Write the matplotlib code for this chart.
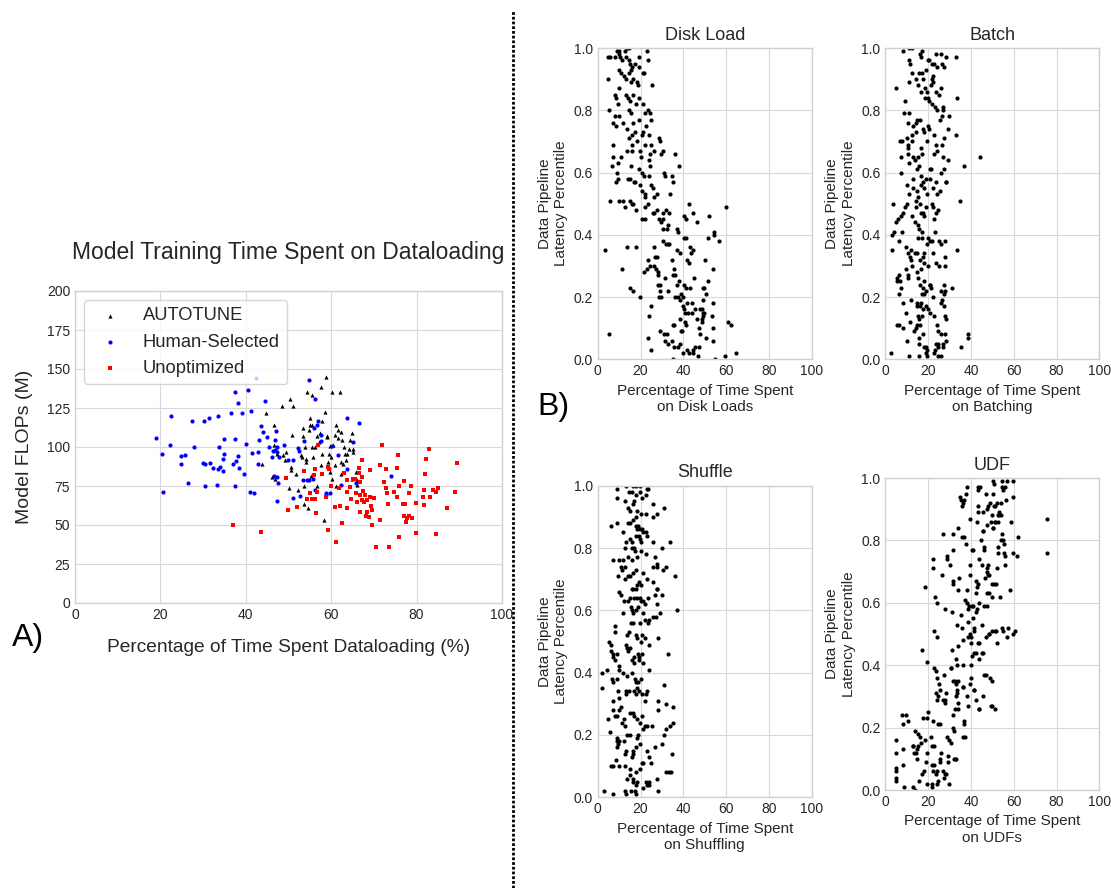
import matplotlib
matplotlib.use("Agg")
import matplotlib.pyplot as plt
from matplotlib.lines import Line2D

# ---------------- data ----------------
autotune_pts = [(43.9,88.8),(44.8,122.1),(46.2,80.9),(46.6,101.2),(46.6,114.4),(46.8,79.4),(47.3,95.8),(48.4,126.6),(48.8,94.8),(49.2,91.6),(49.5,96.9),(50.1,73.4),(50.3,130.7),(50.6,87.3),(50.7,85.3),(50.8,107.6),(51.1,126.6),(51.7,82.6),(52.3,72.3),(52.9,94.8),(53.1,93.7),(53.4,111.9),(53.4,107.2),(53.8,100.1),(54.0,92.6),(53.7,75.1),(54.0,90.3),(53.7,63.3),(54.4,135.4),(54.6,61.2),(54.9,110.8),(55.0,114.0),(55.1,118.3),(55.2,81.7),(55.4,133.5),(55.5,100.1),(55.5,114.0),(55.8,93.7),(56.2,100.1),(56.6,75.1),(56.7,107.2),(57.2,103.1),(57.3,109.1),(57.6,138.6),(57.9,116.6),(57.9,95.2),(57.7,88.6),(58.6,122.6),(58.3,53.0),(58.8,144.8),(58.9,107.2),(59.1,106.1),(59.4,95.8),(59.3,90.1),(59.5,87.3),(59.7,84.1),(59.7,100.7),(60.0,93.7),(60.2,79.4),(60.3,135.4),(60.5,101.6),(60.8,108.0),(60.9,88.3),(61.2,114.0),(61.2,75.1),(61.5,105.9),(61.7,110.8),(62.0,135.4),(62.2,109.7),(62.2,90.5),(62.4,83.0),(62.6,104.8),(62.8,89.4),(63.1,100.1),(63.2,95.6),(63.5,91.6),(63.7,95.8),(64.1,98.4),(64.5,104.4),(64.8,108.9),(64.8,79.4),(65.0,96.9),(65.1,98.4),(65.8,83.7),(66.1,75.9),(66.1,78.7)]

human_pts = [(19.0,105.5),(20.4,95.8),(20.7,71.2),(22.4,119.6),(22.2,101.0),(24.9,94.5),(25.7,95.0),(24.9,89.4),(26.4,76.8),(27.3,116.8),(27.8,100.1),(30.3,116.8),(31.3,118.9),(30.0,89.8),(30.5,89.4),(30.5,75.1),(31.7,89.8),(32.3,86.4),(33.5,119.6),(33.7,100.1),(33.6,86.2),(33.9,87.3),(34.6,92.2),(34.9,95.4),(34.6,84.7),(33.2,75.5),(34.9,105.0),(36.5,122.1),(37.4,135.2),(38.1,128.3),(37.5,105.0),(37.1,89.0),(37.8,90.9),(38.2,94.3),(38.5,86.8),(37.5,75.3),(39.0,121.9),(39.6,83.0),(40.0,101.8),(40.5,136.5),(41.3,123.0),(41.5,96.3),(41.0,71.0),(42.0,70.8),(42.4,144.0),(42.8,88.8),(42.9,96.9),(43.0,104.4),(43.6,113.2),(44.0,109.3),(44.5,129.8),(44.9,106.3),(45.5,100.1),(46.2,93.5),(46.4,97.5),(46.5,81.5),(46.8,104.4),(46.8,98.0),(47.1,110.4),(47.2,100.1),(47.4,96.9),(47.3,80.9),(47.5,76.8),(47.4,65.5),(47.7,93.3),(49.0,101.4),(49.8,91.6),(51.0,67.6),(51.1,91.6),(52.3,99.3),(52.4,97.5),(52.7,68.4),(53.7,103.6),(53.5,78.7),(54.3,78.7),(54.7,78.7),(54.8,142.9),(55.7,79.8),(56.0,111.9),(56.2,130.9),(56.3,72.3),(56.6,114.0),(56.9,116.4),(57.6,104.0),(57.7,108.0),(58.7,69.5),(58.8,70.2),(59.8,70.2),(60.2,100.7),(61.5,95.0),(62.4,75.5),(63.6,118.7),(63.6,86.2),(65.0,103.1),(65.7,76.8),(66.5,115.3),(74.1,81.1)]

unopt_pts = [(37.0,50.3),(43.5,45.3),(49.5,80.2),(49.8,59.9),(52.0,61.6),(53.7,84.3),(54.4,66.7),(55.1,70.6),(55.6,66.5),(55.9,81.9),(56.1,66.7),(56.3,86.0),(56.4,58.0),(56.6,71.0),(56.9,101.0),(57.9,83.0),(58.7,68.0),(59.3,87.3),(59.5,85.8),(59.3,47.1),(60.0,74.7),(60.8,61.6),(61.2,39.4),(62.0,62.0),(61.9,73.6),(62.5,51.6),(62.9,83.6),(63.6,78.7),(63.8,71.2),(63.8,61.2),(64.3,74.2),(64.6,66.5),(65.1,79.4),(65.5,79.8),(65.9,70.2),(66.1,64.6),(66.4,86.8),(66.5,83.6),(66.7,77.6),(66.7,58.4),(66.8,69.1),(67.1,80.9),(67.2,91.6),(67.2,65.9),(67.5,71.9),(67.6,64.8),(67.9,69.1),(68.1,55.6),(68.3,65.9),(68.3,58.4),(68.9,55.2),(69.0,85.3),(69.2,68.0),(69.3,62.0),(69.5,59.5),(69.6,49.8),(70.0,67.6),(70.4,35.9),(71.4,88.3),(71.5,53.0),(71.5,53.5),(71.8,101.0),(72.4,77.6),(72.8,73.4),(72.9,85.6),(73.1,70.2),(73.2,63.3),(73.6,35.9),(74.7,71.2),(75.3,68.0),(75.5,86.8),(75.7,94.8),(75.8,74.9),(75.9,42.4),(76.8,63.5),(77.0,78.1),(77.1,56.0),(77.3,63.7),(77.6,52.0),(77.8,54.8),(78.2,55.8),(78.2,70.2),(78.6,75.1),(78.9,54.8),(79.8,64.2),(79.8,45.1),(81.5,68.0),(81.7,72.7),(81.8,63.1),(82.0,82.6),(82.1,92.6),(82.8,98.6),(83.1,68.0),(83.9,72.7),(84.5,71.2),(84.6,44.5),(85.0,73.4),(87.2,61.0),(89.0,71.4),(89.4,89.8)]

disk_pts = [(5.0,0.97),(5.8,0.97),(4.7,0.90),(7.9,0.97),(8.9,0.99),(10.0,0.98),(10.1,0.99),(10.6,0.97),(11.5,0.96),(12.8,0.99),(13.6,1.00),(14.6,1.00),(13.4,0.97),(14.5,0.96),(15.1,0.95),(15.9,0.94),(15.4,0.93),(19.2,0.97),(19.3,0.94),(17.3,0.95),(23.2,0.99),(23.4,0.96),(21.3,0.92),(21.5,0.92),(25.2,0.88),(9.8,0.93),(11.1,0.92),(10.1,0.87),(12.3,0.91),(13.2,0.90),(14.6,0.92),(15.6,0.89),(16.7,0.90),(18.2,0.89),(19.0,0.88),(13.2,0.85),(14.3,0.84),(15.1,0.83),(16.4,0.85),(17.9,0.82),(19.5,0.84),(8.1,0.85),(8.6,0.84),(9.4,0.82),(10.1,0.78),(8.1,0.78),(7.3,0.76),(8.6,0.75),(5.5,0.80),(12.0,0.76),(13.6,0.74),(14.8,0.80),(15.4,0.79),(16.7,0.76),(17.6,0.73),(19.2,0.77),(21.0,0.82),(22.1,0.79),(23.5,0.80),(24.5,0.79),(24.9,0.77),(22.6,0.75),(21.0,0.73),(20.9,0.72),(22.3,0.69),(23.8,0.72),(24.8,0.69),(28.5,0.71),(29.1,0.70),(18.5,0.70),(15.9,0.72),(14.6,0.71),(7.3,0.69),(7.3,0.65),(15.9,0.69),(13.6,0.67),(24.5,0.66),(26.5,0.67),(29.6,0.66),(30.7,0.67),(24.1,0.64),(19.9,0.67),(15.9,0.67),(20.2,0.65),
(6.7,0.62),(9.7,0.63),(10.7,0.65),(8.9,0.60),(9.4,0.58),(8.6,0.57),(5.9,0.51),(10.1,0.51),(12.0,0.51),(14.2,0.58),(14.9,0.58),(15.6,0.62),(17.0,0.57),(17.5,0.57),(15.1,0.51),(15.9,0.50),(16.7,0.50),(17.9,0.48),(12.6,0.49),(19.5,0.61),(20.6,0.60),(21.7,0.59),(19.9,0.56),(20.6,0.54),(22.1,0.53),(22.1,0.52),(24.4,0.62),(24.1,0.59),(24.9,0.56),(26.0,0.55),(26.3,0.52),(27.6,0.53),(23.4,0.50),(22.1,0.49),(25.7,0.47),(26.5,0.47),(27.9,0.48),(30.3,0.45),(30.7,0.47),(32.1,0.48),(33.5,0.47),(33.8,0.53),(35.4,0.57),(34.6,0.59),(36.1,0.66),(38.0,0.62),(31.5,0.59),(30.9,0.60),(20.7,0.45),(22.3,0.45),(28.5,0.45),(29.6,0.44),(30.4,0.42),(32.2,0.42),(33.0,0.43),(36.9,0.42),(37.4,0.41),(40.3,0.46),(41.1,0.45),(42.7,0.50),(44.4,0.47),(46.3,0.44),(52.2,0.46),(51.6,0.39),(54.2,0.41),(54.5,0.40),(56.7,0.38),(60.0,0.49),(40.3,0.39),(41.1,0.39),(30.7,0.38),(31.9,0.37),(32.7,0.37),(33.5,0.37),(37.2,0.35),(38.4,0.34),(43.0,0.36),(44.7,0.35),(43.7,0.34),(41.8,0.32),(42.6,0.31),(50.3,0.32),(13.9,0.36),(18.0,0.36),(11.2,0.29),(3.4,0.35),(5.3,0.08),
(26.5,0.36),(26.8,0.33),(27.6,0.33),(23.5,0.32),(24.5,0.30),(26.3,0.30),(27.4,0.29),(28.0,0.28),(28.3,0.27),(28.0,0.24),(29.3,0.24),(21.8,0.28),(23.0,0.29),(31.6,0.26),(35.8,0.29),(34.6,0.32),(35.0,0.27),(36.1,0.27),(36.9,0.24),(38.0,0.25),(40.2,0.24),(41.3,0.23),(43.1,0.23),(45.0,0.26),(49.4,0.23),(49.9,0.23),(50.5,0.21),(49.4,0.19),(51.6,0.25),(54.1,0.29),(29.1,0.22),(28.8,0.20),(29.6,0.20),(32.9,0.22),(36.1,0.20),(37.5,0.20),(38.5,0.19),(39.9,0.20),(38.9,0.21),(40.0,0.17),(40.5,0.16),(40.9,0.15),(42.4,0.15),(41.9,0.18),(41.0,0.12),(41.3,0.11),(43.9,0.18),(43.9,0.15),(45.3,0.16),(46.2,0.13),(47.7,0.16),(48.6,0.16),(49.4,0.15),(49.1,0.14),(48.6,0.13),(49.9,0.15),(48.6,0.12),(47.2,0.10),(53.6,0.14),(54.0,0.18),(53.8,0.10),(54.1,0.06),(50.6,0.07),(47.8,0.08),(47.5,0.04),(45.5,0.04),(44.7,0.03),(44.4,0.02),(42.7,0.02),(41.8,0.03),(40.0,0.02),(38.5,0.05),(37.3,0.04),(35.8,0.04),(35.4,0.00),(34.9,0.06),(33.0,0.05),(31.5,0.06),(30.9,0.08),(32.6,0.08),(29.1,0.09),(25.1,0.03),(23.5,0.07),(38.9,0.09),(39.6,0.09),(38.5,0.13),(35.4,0.11),(35.8,0.11),(24.8,0.17),(24.1,0.14),(19.8,0.20),(15.0,0.23),(16.4,0.22),(55.0,0.00),(59.4,0.01),(60.8,0.12),(62.5,0.11),(64.5,0.02),(47.0,0.01)]

batch_pts = [(8.1,0.99),(11.2,1.00),(12.5,1.00),(10.9,0.96),(11.4,0.95),(12.6,0.92),(10.9,0.89),(5.0,0.87),(14.3,0.90),(15.4,0.88),(16.2,0.98),(17.0,0.99),(16.7,0.97),(15.9,0.92),(17.1,0.92),(18.8,0.93),(17.8,0.90),(16.7,0.86),(18.5,0.87),(19.5,0.86),(20.1,0.84),(18.5,0.84),(19.8,0.96),(20.6,0.96),(21.7,0.95),(22.9,0.95),(24.0,0.94),(23.7,0.98),(26.0,0.98),(28.2,0.97),(26.5,0.95),(27.4,0.94),(33.0,0.97),(21.7,0.90),(22.1,0.89),(21.3,0.88),(22.4,0.91),(23.7,0.86),(26.0,0.87),(25.1,0.85),(20.4,0.83),(21.7,0.82),(23.4,0.81),(24.0,0.80),(27.1,0.81),(27.1,0.80),(26.5,0.78),(25.7,0.77),(29.8,0.78),(33.6,0.84),(9.2,0.83),(8.7,0.79),(10.9,0.79),(10.7,0.76),(12.8,0.75),(14.3,0.76),(15.0,0.77),(16.2,0.77),(17.4,0.74),(18.2,0.73),(19.8,0.75),(20.6,0.74),(14.3,0.73),(12.6,0.72),(6.9,0.70),(7.8,0.70),(10.3,0.71),(10.7,0.69),(12.5,0.70),(16.7,0.68),(17.1,0.66),(19.3,0.70),(22.9,0.72),(23.7,0.69),(24.1,0.67),(22.9,0.66),(27.4,0.71),(29.4,0.74),(33.0,0.72),(26.3,0.69),(26.8,0.65),(29.4,0.64),(44.2,0.65),(36.9,0.62),
(7.2,0.65),(10.4,0.68),(10.4,0.66),(13.1,0.65),(14.0,0.64),(15.1,0.65),(15.0,0.61),(15.9,0.62),(16.5,0.59),(7.3,0.60),(11.2,0.63),(12.8,0.58),(10.0,0.56),(11.2,0.53),(13.1,0.55),(14.6,0.54),(15.4,0.52),(14.3,0.51),(16.8,0.56),(17.4,0.57),(18.1,0.55),(19.0,0.58),(19.6,0.53),(20.9,0.58),(20.9,0.61),(21.3,0.61),(22.1,0.55),(23.7,0.57),(26.0,0.60),(27.4,0.61),(28.3,0.57),(28.3,0.57),(25.7,0.54),(24.3,0.53),(21.7,0.50),(19.0,0.49),(16.2,0.50),(14.3,0.49),(16.7,0.47),(17.4,0.47),(18.2,0.46),(9.2,0.49),(10.0,0.50),(7.2,0.46),(6.1,0.45),(7.6,0.41),(4.2,0.41),(3.4,0.50),(3.0,0.40),(5.0,0.44),(8.1,0.47),(12.6,0.46),(14.0,0.44),(15.1,0.43),(15.9,0.42),(17.0,0.41),(15.4,0.39),(17.1,0.39),(22.4,0.49),(23.7,0.47),(24.8,0.48),(22.7,0.45),(23.1,0.41),(19.8,0.39),(20.9,0.38),(19.3,0.37),(21.7,0.38),(25.1,0.38),(25.9,0.37),(27.9,0.38),(34.9,0.51),(33.3,0.35),(3.0,0.35),(6.4,0.38),(9.5,0.36),(10.7,0.34),(12.0,0.35),(11.5,0.33),(12.0,0.32),(12.3,0.30),(13.9,0.34),(15.0,0.34),(16.2,0.32),(17.4,0.33),(18.1,0.34),(16.7,0.29),(18.2,0.31),(20.1,0.30),(22.4,0.34),(23.7,0.31),(25.2,0.30),(27.9,0.33),(27.9,0.30),
(9.7,0.29),(10.4,0.27),(10.7,0.26),(6.5,0.27),(6.9,0.25),(5.3,0.26),(5.3,0.25),(7.2,0.23),(6.5,0.21),(8.1,0.18),(11.8,0.19),(9.7,0.15),(15.0,0.28),(15.4,0.26),(16.2,0.24),(17.4,0.23),(18.2,0.25),(19.0,0.22),(20.9,0.24),(21.3,0.23),(20.9,0.24),(18.1,0.21),(17.0,0.21),(16.7,0.18),(14.6,0.18),(15.0,0.17),(16.2,0.17),(19.0,0.17),(17.4,0.16),(17.0,0.14),(15.4,0.14),(15.9,0.13),(19.8,0.16),(20.9,0.15),(22.7,0.14),(22.1,0.20),(26.0,0.22),(26.3,0.19),(26.0,0.18),(27.4,0.24),(27.9,0.22),(31.3,0.23),(27.4,0.21),(27.9,0.14),(27.4,0.17),(28.3,0.13),(5.3,0.11),(6.5,0.11),(8.1,0.10),(10.3,0.06),(11.5,0.12),(13.4,0.09),(14.3,0.10),(15.0,0.11),(16.2,0.11),(15.9,0.07),(15.9,0.05),(17.4,0.08),(18.2,0.04),(19.0,0.04),(19.0,0.02),(19.3,0.03),(19.3,0.01),(11.2,0.01),(15.9,0.01),(2.6,0.02),(23.7,0.05),(24.5,0.05),(22.9,0.02),(23.2,0.03),(24.0,0.11),(24.8,0.09),(26.0,0.08),(27.9,0.08),(28.2,0.06),(27.1,0.05),(26.8,0.04),(26.0,0.01),(24.8,0.01),(24.8,0.04),(38.6,0.08),(38.8,0.07),(35.2,0.04)]

shuffle_pts = [(9.2,0.99),(13.2,1.00),(16.4,1.00),(17.9,1.00),(19.8,1.00),(23.2,0.99),(23.7,0.99),(9.2,0.96),(14.8,0.98),(15.9,0.98),(17.8,0.97),(19.8,0.98),(20.9,0.96),(22.4,0.97),(12.8,0.95),(14.3,0.93),(15.1,0.92),(16.4,0.94),(17.0,0.95),(18.5,0.92),(20.1,0.91),(22.6,0.91),(26.0,0.94),(26.0,0.90),(27.9,0.91),(31.0,0.93),(14.3,0.88),(15.1,0.88),(16.4,0.89),(17.9,0.90),(9.2,0.88),(6.1,0.87),(19.0,0.87),(19.8,0.86),(20.6,0.86),(17.9,0.87),(18.5,0.86),(21.3,0.85),(22.6,0.85),(12.0,0.85),(13.2,0.82),(15.1,0.83),(15.9,0.82),(17.9,0.84),(19.5,0.84),(19.8,0.83),(20.1,0.82),(23.2,0.84),(26.0,0.82),(33.8,0.82),(12.8,0.80),(15.9,0.80),(17.0,0.80),(17.4,0.79),(20.1,0.79),(22.4,0.78),(18.5,0.77),(14.3,0.77),(15.9,0.76),(7.0,0.76),(10.1,0.76),(12.0,0.76),(26.8,0.77),(27.6,0.74),(26.0,0.74),(27.9,0.75),(29.9,0.80),(31.9,0.74),(30.4,0.73),(36.1,0.71),(10.7,0.74),(11.2,0.73),(12.8,0.74),(14.3,0.71),(12.8,0.70),(15.1,0.71),(16.4,0.72),(17.9,0.73),(19.5,0.69),(21.3,0.72),(23.2,0.70),(9.7,0.71),(15.9,0.67),(16.4,0.67),(17.8,0.67),(18.2,0.68),(20.1,0.68),(25.7,0.69),(27.6,0.67),(27.9,0.67),(29.9,0.65),(26.8,0.65),(10.1,0.66),(10.7,0.65),(12.3,0.63),(14.0,0.63),(15.1,0.64),(17.1,0.64),(18.2,0.64),(19.8,0.64),(20.1,0.63),(21.0,0.63),(22.1,0.62),(23.7,0.64),(27.6,0.62),(36.9,0.60),
(12.0,0.59),(15.4,0.61),(15.9,0.60),(16.4,0.59),(17.9,0.60),(19.0,0.61),(21.3,0.59),(22.1,0.57),(24.1,0.57),(26.0,0.58),(27.3,0.58),(29.1,0.59),(23.5,0.56),(19.8,0.56),(16.4,0.56),(15.6,0.56),(8.1,0.55),(8.1,0.53),(13.6,0.52),(14.8,0.53),(17.8,0.52),(18.2,0.51),(20.6,0.52),(22.1,0.51),(20.2,0.50),(24.0,0.49),(28.0,0.51),(5.3,0.50),(6.1,0.49),(6.1,0.47),(7.0,0.46),(8.9,0.46),(7.3,0.45),(8.1,0.44),(13.1,0.49),(13.6,0.48),(14.3,0.47),(15.1,0.48),(17.0,0.45),(19.0,0.46),(19.3,0.45),(20.6,0.46),(33.0,0.46),(15.9,0.44),(17.0,0.43),(19.3,0.44),(21.0,0.43),(24.1,0.41),(10.1,0.42),(10.1,0.41),(4.2,0.41),(1.9,0.40),(1.9,0.35),(6.9,0.38),(7.3,0.37),(8.9,0.38),(12.0,0.40),(13.6,0.39),(15.9,0.40),(17.4,0.38),(17.9,0.37),(19.0,0.37),(20.1,0.38),(18.2,0.35),(17.0,0.34),(17.9,0.33),(19.5,0.34),(20.6,0.33),(22.1,0.31),(22.6,0.33),(23.2,0.34),(13.2,0.34),(14.8,0.34),(13.2,0.33),(9.7,0.34),(10.1,0.32),(7.3,0.31),(31.0,0.36),(31.9,0.30),(28.0,0.31),(28.0,0.28),(35.0,0.29),
(10.9,0.29),(10.1,0.28),(7.3,0.28),(8.1,0.26),(9.2,0.26),(5.0,0.25),(12.5,0.25),(12.8,0.23),(11.2,0.24),(15.1,0.27),(16.4,0.27),(17.0,0.26),(18.5,0.25),(19.8,0.24),(20.6,0.26),(23.2,0.23),(25.2,0.23),(22.1,0.23),(21.0,0.22),(18.7,0.20),(15.1,0.20),(13.6,0.20),(5.8,0.21),(8.9,0.19),(9.2,0.18),(9.7,0.17),(10.1,0.18),(8.9,0.16),(12.3,0.18),(18.2,0.19),(19.8,0.17),(17.9,0.16),(16.4,0.14),(15.9,0.13),(13.1,0.15),(12.8,0.14),(16.4,0.15),(23.2,0.15),(24.1,0.13),(24.8,0.11),(27.0,0.16),(30.0,0.17),(31.9,0.22),(31.0,0.20),(34.6,0.14),(35.4,0.24),(33.8,0.23),(7.0,0.10),(6.1,0.10),(10.1,0.10),(8.6,0.12),(12.8,0.10),(15.1,0.09),(13.6,0.06),(15.1,0.07),(16.4,0.06),(16.7,0.05),(17.9,0.08),(18.2,0.05),(19.8,0.09),(20.6,0.11),(21.0,0.11),(22.6,0.05),(23.2,0.04),(24.1,0.04),(24.1,0.05),(27.6,0.06),(28.0,0.02),(31.9,0.08),(33.5,0.08),(34.1,0.08),(3.1,0.02),(7.0,0.01),(12.8,0.02),(13.2,0.01),(15.4,0.02),(17.4,0.02),(17.9,0.01),(21.3,0.03),(17.9,0.04)]

udf_pts = [(5.0,0.16),(5.0,0.12),(5.0,0.07),(5.0,0.06),(5.0,0.04),(5.0,0.03),(8.1,0.21),(7.6,0.24),(9.7,0.24),(10.7,0.22),(8.4,0.13),(8.4,0.08),(8.7,0.01),(12.8,0.14),(13.1,0.14),(13.4,0.12),(13.9,0.19),(14.3,0.12),(15.0,0.13),(15.0,0.10),(15.4,0.18),(16.2,0.17),(16.7,0.15),(15.4,0.14),(15.9,0.03),(13.9,0.00),(13.1,0.01),(17.0,0.05),(17.8,0.23),(18.7,0.16),(19.3,0.12),(19.0,0.09),(18.2,0.06),(19.3,0.02),(19.6,0.23),(20.1,0.25),(19.3,0.41),(18.5,0.65),(17.0,0.45),(21.2,0.17),(21.7,0.14),(21.7,0.08),(22.1,0.06),(21.8,0.02),(21.7,0.01),(22.4,0.22),(22.9,0.14),(22.7,0.08),(23.7,0.05),(24.0,0.06),(24.8,0.03),(24.3,0.02),(22.4,0.74),(22.4,0.71),(22.6,0.51),(23.2,0.62),(24.3,0.60),(24.3,0.49),(22.6,0.39),(23.7,0.38),(24.0,0.36),(25.2,0.34),(24.0,0.29),(23.7,0.31),(24.8,0.30),(25.5,0.32),(24.8,0.21),(25.5,0.21),(25.5,0.10),(25.9,0.12),(25.5,0.09),(26.8,0.06),(27.9,0.05),(28.3,0.05),(27.4,0.04),(27.1,0.82),(26.3,0.69),(27.9,0.58),(27.6,0.37),(27.1,0.29),(27.9,0.28),(27.9,0.29),(28.3,0.31),(29.0,0.74),(28.7,0.75),(30.2,0.72),(29.0,0.17),(29.8,0.16),(29.5,0.11),(29.5,0.09),(29.8,0.02),(30.5,0.15),(30.7,0.39),(30.7,0.39),(31.0,0.45),(31.0,0.57),(31.5,0.67),(31.8,0.66),(31.5,0.77),(31.8,0.82),(31.8,0.35),(31.8,0.20),(32.1,0.19),(32.1,0.10),(32.6,0.10),(33.0,0.10),(31.8,0.24),(32.6,0.26),(33.0,0.30),(32.6,0.35),(33.0,0.34),(33.3,0.32),(33.3,0.31),(33.8,0.46),(33.0,0.42),(33.3,0.40),(33.3,0.53),(33.8,0.84),(33.8,0.64),(34.1,0.26),(34.1,0.28),(34.1,0.35),(34.4,0.68),(34.9,0.94),(35.4,0.93),(36.1,0.92),(36.8,0.93),(35.7,0.91),(35.7,0.81),(35.4,0.56),(35.7,0.52),(36.1,0.48),(36.1,0.40),(36.4,0.33),(36.1,0.33),(36.8,0.22),(36.8,0.21),(36.1,0.17),(37.1,0.17),(36.9,0.81),(37.2,0.61),(37.5,0.79),(37.7,0.95),(38.3,0.97),(38.3,0.64),(38.3,0.30),(38.0,0.60),(38.5,0.54),(38.5,0.27),(38.5,0.49),(38.5,0.58),
(39.6,0.50),(39.6,0.34),(39.6,0.69),(39.6,0.72),(39.6,0.87),(39.3,0.59),(40.0,0.47),(40.2,0.36),(40.2,0.49),(40.3,0.43),(40.2,0.40),(40.3,0.59),(40.7,0.77),(40.8,0.77),(41.1,0.55),(41.1,0.59),(41.4,0.51),(41.4,0.52),(41.4,0.44),(41.6,0.32),(41.6,0.32),(42.4,0.44),(42.2,0.29),(42.2,0.57),(42.4,0.63),(42.4,0.67),(42.7,0.58),(42.7,0.86),(43.0,0.65),(43.1,0.97),(43.5,0.96),(43.5,0.91),(43.5,0.89),(43.6,0.60),(43.5,0.47),(43.8,0.47),(43.8,0.42),(43.8,0.26),(43.9,0.26),(44.5,0.80),(43.9,0.74),(43.5,0.66),(44.2,0.97),(45.0,0.72),(45.0,0.53),(45.2,0.44),(45.5,0.83),(45.5,0.83),(45.8,0.89),(45.8,0.44),(45.8,0.30),(46.1,0.78),(46.1,0.77),(46.3,0.37),(46.6,0.68),(46.3,0.59),(46.9,0.95),(46.9,0.49),(47.0,0.37),(47.4,0.71),(47.4,0.63),(47.4,0.85),(47.4,0.90),(47.7,0.70),(47.7,0.59),(47.8,0.69),(48.1,0.91),(48.1,0.72),(48.4,0.69),(48.6,0.63),(48.9,0.92),(48.6,0.50),(48.6,0.50),(48.9,0.36),(49.7,0.35),(49.4,0.86),(49.7,0.88),(49.4,0.27),(49.7,0.27),(50.0,0.66),(50.0,0.51),(49.7,0.62),(50.5,0.95),(50.5,0.84),(50.5,0.84),(50.5,0.99),(50.8,0.98),(50.8,0.91),(50.9,0.66),(51.2,0.86),(51.2,0.91),(51.2,0.86),(51.2,0.51),(51.6,0.51),(51.2,0.26),(51.7,0.66),(52.0,0.47),(52.3,0.92),(52.3,0.71),(52.8,0.88),(52.8,0.86),(52.8,0.78),(52.8,0.76),(53.3,0.89),(53.3,0.88),(53.6,0.62),(53.9,0.92),(54.0,0.80),(54.0,0.88),(54.4,0.82),(54.4,0.52),(54.8,0.80),(54.8,0.51),(54.4,0.99),(54.4,0.97),(55.1,0.96),(55.5,0.76),(55.6,0.79),(55.9,0.97),(55.9,0.75),(55.9,0.72),(56.2,0.93),(56.7,0.99),(57.0,0.49),(57.5,0.52),(58.3,0.64),(58.6,0.86),(59.5,0.99),(59.5,0.94),(59.8,0.76),(59.8,0.50),(60.6,0.51),(61.7,0.75),(62.1,0.81),(75.4,0.87),(75.4,0.76)]

left_title = "Model Training Time Spent on Dataloading"
left_xlabel = "Percentage of Time Spent Dataloading (%)"
left_ylabel = "Model FLOPs (M)"
series_labels = ["AUTOTUNE", "Human-Selected", "Unoptimized"]
left_xticks = [0, 20, 40, 60, 80, 100]
left_yticks = [0, 25, 50, 75, 100, 125, 150, 175, 200]

panel_titles = ["Disk Load", "Batch", "Shuffle", "UDF"]
panel_xlabels = ["Percentage of Time Spent\non Disk Loads",
                 "Percentage of Time Spent\non Batching",
                 "Percentage of Time Spent\non Shuffling",
                 "Percentage of Time Spent\non UDFs"]
panel_ylabel = "Data Pipeline\nLatency Percentile"
panel_xticks = [0, 20, 40, 60, 80, 100]
panel_yticks = [0.0, 0.2, 0.4, 0.6, 0.8, 1.0]

# ---------------- style ----------------
plt.style.use("seaborn-v0_8-whitegrid")
plt.rcParams["font.family"] = ["Liberation Sans", "DejaVu Sans"]
plt.rcParams["text.color"] = "#262626"
plt.rcParams["axes.labelcolor"] = "#262626"
plt.rcParams["xtick.color"] = "#262626"
plt.rcParams["ytick.color"] = "#262626"
plt.rcParams["grid.color"] = "#d9d9d9"
plt.rcParams["axes.edgecolor"] = "#d0d0d0"

W, H = 1111, 888
fig = plt.figure(figsize=(W / 100, H / 100), dpi=100)

def rect(x0, y0, x1, y1):
    return [x0 / W, 1 - y1 / H, (x1 - x0) / W, (y1 - y0) / H]

# ---------------- left panel ----------------
ax = fig.add_axes(rect(75, 291, 502, 603))
colors = ["black", "blue", "red"]
markers = ["^", "o", "s"]
for pts, lab, c, m in zip([autotune_pts, human_pts, unopt_pts], series_labels, colors, markers):
    xs, ys = zip(*pts)
    ax.scatter(xs, ys, s=9, c=c, marker=m, label=lab, linewidths=0)
ax.set_xlim(0, 100)
ax.set_ylim(0, 200)
ax.set_xticks(left_xticks)
ax.set_yticks(left_yticks)
ax.tick_params(labelsize=10)
ax.set_title(left_title, fontsize=16.5, pad=23)
ax.set_xlabel(left_xlabel, fontsize=13.75, labelpad=12)
ax.set_ylabel(left_ylabel, fontsize=14, labelpad=10)
leg = ax.legend(loc="upper left", fontsize=13.2, frameon=True, framealpha=0.8,
                scatterpoints=1, handletextpad=0.8, borderpad=0.4)
leg.get_frame().set_edgecolor("#cccccc")

# ---------------- right panels ----------------
panel_data = [disk_pts, batch_pts, shuffle_pts, udf_pts]
panel_rects = [rect(597.7, 48, 811.7, 359.3), rect(885.3, 48, 1099.3, 359.3),
               rect(597.7, 485.7, 811.7, 797.3), rect(885.3, 478, 1099.3, 790)]
for pts, title, xl, r in zip(panel_data, panel_titles, panel_xlabels, panel_rects):
    a = fig.add_axes(r)
    xs, ys = zip(*pts)
    a.scatter(xs, ys, s=9, c="black", marker="o", linewidths=0)
    a.set_xlim(0, 100)
    a.set_ylim(0, 1)
    a.set_xticks(panel_xticks)
    a.set_yticks(panel_yticks)
    a.tick_params(labelsize=10)
    a.set_title(title, fontsize=13)
    a.set_xlabel(xl, fontsize=11)
    a.set_ylabel(panel_ylabel, fontsize=11)

# ---------------- annotations ----------------
fig.text(12 / W, 1 - 638 / H, "A)", fontsize=23, va="center", ha="left", color="black")
fig.text(537 / W, 1 - 407 / H, "B)", fontsize=23, va="center", ha="left", color="black")
fig.add_artist(Line2D([513 / W, 513 / W], [0, 1 - 10 / H], transform=fig.transFigure,
                      color="black", linewidth=2.0, linestyle=(0, (1, 0.7)),
                      dash_capstyle="butt"))

fig.savefig("out.png", dpi=100)
